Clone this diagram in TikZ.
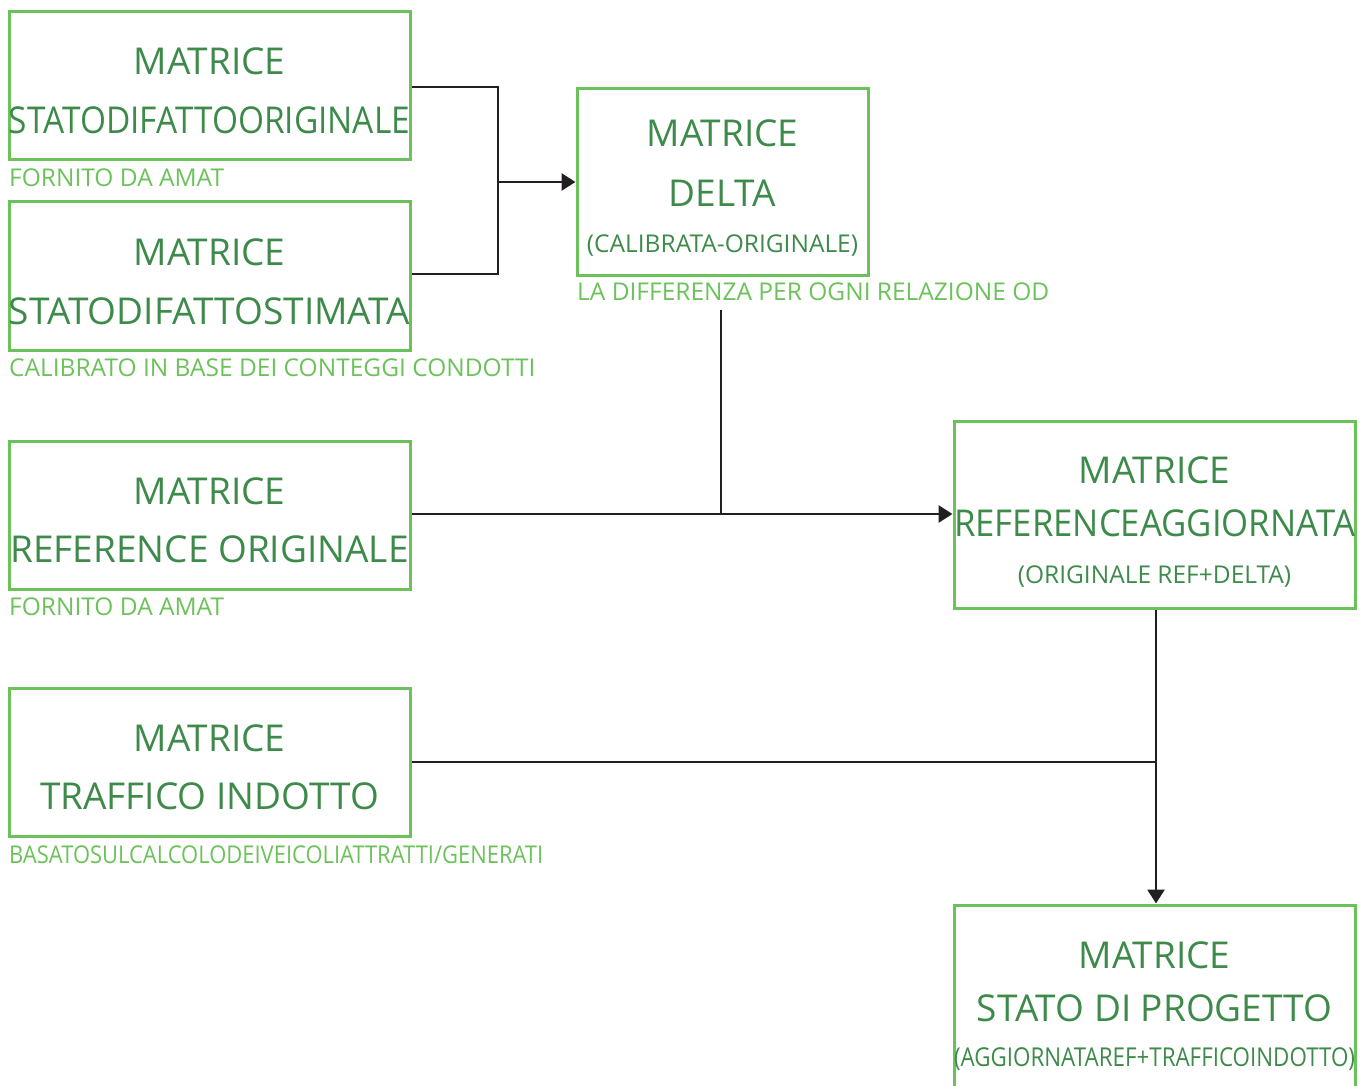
\documentclass[tikz,border=0pt]{standalone}
\usepackage{fontspec}
\setmainfont{Open Sans}
\usepackage{graphicx}
\usetikzlibrary{arrows.meta}
\definecolor{lg}{HTML}{6CC25A}
\definecolor{dg}{HTML}{3D8A4A}
\definecolor{ln}{HTML}{231F20}
\newcommand\fitw[2]{\resizebox{#1}{\height}{#2}}
\begin{document}
\begin{tikzpicture}[x=1pt,y=-1pt,
  boxnode/.style={draw=lg, line width=3pt, inner sep=0pt, rectangle},
  bigtxt/.style={font=\fontsize{37}{37}\selectfont, text=dg, anchor=base, inner sep=0pt},
  smalltxt/.style={font=\fontsize{24.5}{24.5}\selectfont, text=dg, anchor=base, inner sep=0pt},
  labtxt/.style={font=\fontsize{24.5}{24.5}\selectfont, text=lg, anchor=base west, inner sep=0pt},
  conn/.style={draw=ln, line width=2.8pt},
  arr/.style={conn, -{Triangle[length=14pt,width=17pt]}}]
\useasboundingbox (0,0) rectangle (1370,1086);
\clip (0,0) rectangle (1370,1086);
% boxes
\node[boxnode, minimum width=401pt, minimum height=148pt] (A) at (209.5,86) {};
\node[boxnode, minimum width=401pt, minimum height=148pt] (B) at (209.5,276) {};
\node[boxnode, minimum width=291pt, minimum height=186pt] (C) at (722.5,182) {};
\node[boxnode, minimum width=401pt, minimum height=148pt] (D) at (209.5,515) {};
\node[boxnode, minimum width=401pt, minimum height=187pt] (E) at (1154.5,514.5) {};
\node[boxnode, minimum width=401pt, minimum height=148pt] (F) at (209.5,762) {};
\node[boxnode, minimum width=401pt, minimum height=220pt] (G) at (1154.5,1015) {};
% texts A
\node[bigtxt] (a1) at (209.5,75) {MATRICE};
\node[bigtxt] (a2) at (209.5,134) {\fitw{401pt}{STATODIFATTOORIGINALE}};
\node[labtxt] (al) at (9,186) {FORNITO DA AMAT};
% texts B
\node[bigtxt] (b1) at (209.5,265) {MATRICE};
\node[bigtxt] (b2) at (209.5,324) {\fitw{401pt}{STATODIFATTOSTIMATA}};
\node[labtxt] (bl) at (9,376) {CALIBRATO IN BASE DEI CONTEGGI CONDOTTI};
% texts C
\node[bigtxt] (c1) at (722.5,147) {MATRICE};
\node[bigtxt] (c2) at (722.5,207) {DELTA};
\node[smalltxt] (c3) at (722.5,252) {(CALIBRATA-ORIGINALE)};
\node[labtxt] (cl) at (577,300) {LA DIFFERENZA PER OGNI RELAZIONE OD};
% texts D
\node[bigtxt] (d1) at (209.5,504) {MATRICE};
\node[bigtxt] (d2) at (209.5,562) {REFERENCE ORIGINALE};
\node[labtxt] (dl) at (9,615) {FORNITO DA AMAT};
% texts E
\node[bigtxt] (e1) at (1154.5,483) {MATRICE};
\node[bigtxt] (e2) at (1154.5,536) {\fitw{401pt}{REFERENCEAGGIORNATA}};
\node[smalltxt] (e3) at (1154.5,583) {(ORIGINALE REF+DELTA)};
% texts F
\node[bigtxt] (f1) at (209.5,751) {MATRICE};
\node[bigtxt] (f2) at (209.5,809) {TRAFFICO INDOTTO};
\node[labtxt] (fl) at (9,863) {\fitw{534pt}{BASATOSULCALCOLODEIVEICOLIATTRATTI/GENERATI}};
% texts G
\node[bigtxt] (g1) at (1154.5,968) {MATRICE};
\node[bigtxt] (g2) at (1154.5,1021) {STATO DI PROGETTO};
\node[smalltxt, font=\fontsize{26}{26}\selectfont] (g3) at (1154.5,1066) {\fitw{401pt}{(AGGIORNATAREF+TRAFFICOINDOTTO)}};
% connectors
\coordinate (J) at (498,182);
\coordinate (dtop) at (721,310);
\coordinate (djoin) at (721,514);
\coordinate (fjoin) at (1156,762);
\draw[conn] (A.east |- 0,87) -- (498,87) -- (498,274) -- (B.east |- 0,274);
\draw[arr] (J) -- (C.west);
\draw[arr] (D.east |- 0,514) -- (E.west |- 0,514);
\draw[conn] (dtop) -- (djoin);
\draw[arr] (E.south -| fjoin) -- (G.north -| fjoin);
\draw[conn] (F.east) -- (fjoin);
\end{tikzpicture}
\end{document}
